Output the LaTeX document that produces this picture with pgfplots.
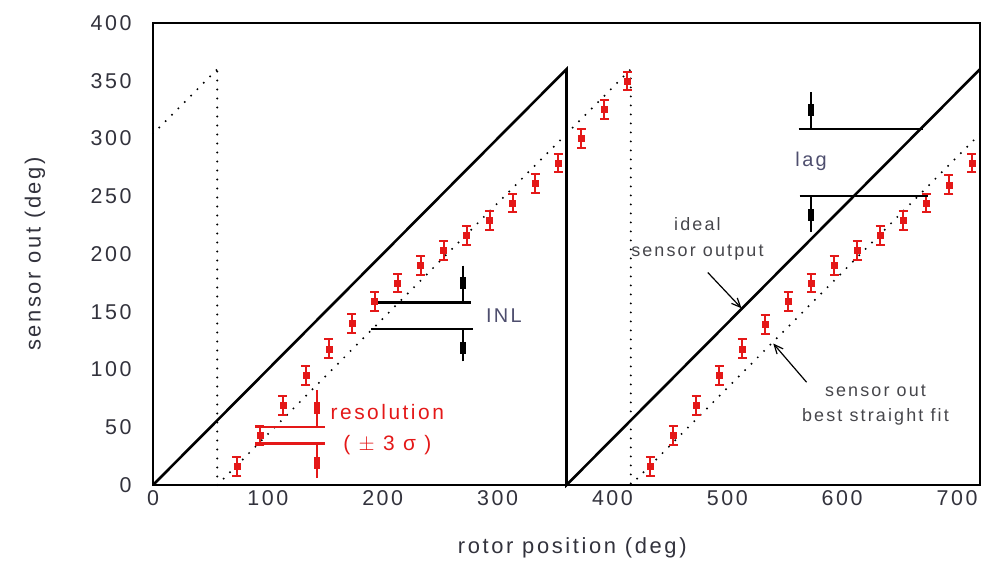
\documentclass[border=0pt]{standalone}
\usepackage{fontspec}
\setmainfont{Liberation Sans}[LetterSpace=12]
\usepackage{pgfplots}
\usepackage{pgfplotstable}
\pgfplotsset{compat=1.18}
\usetikzlibrary{arrows.meta}

\definecolor{ptred}{RGB}{228,24,24}
\definecolor{txtgray}{RGB}{50,50,60}
\definecolor{annot}{RGB}{78,78,110}
\definecolor{notegray}{RGB}{70,70,75}

% sensor output samples, first revolution (x, y, +-3 sigma)
\pgfplotstableread{
x   y    e
73  16   8
93  43   8
113 69   8
133 95   8
153 118  8
173 140  8
193 159  8
213 175  8
233 190  8
253 203  8
273 216  8
293 229  8
313 244  8
333 261  8
353 279  8
373 300  8
393 325  8
413 350  8
}\revone
% second revolution
\pgfplotstableread{
x   y    e
433 16   8
453 43   8
473 69   8
493 95   8
513 118  8
533 139  8
553 159  8
573 175  8
593 190  8
613 203  8
633 216  8
653 229  8
673 244  8
693 260  8
713 279  8
}\revtwo

% vertical marker: line from y1 to y2 with a filled block at yb
\newcommand{\blockmark}[5]{%
  \draw[#5, line width=2bp] (axis cs:#1,#2) -- (axis cs:#1,#3);
  \node[fill=#5, minimum width=6bp, minimum height=12bp, inner sep=0pt] at (axis cs:#1,#4) {};
}

\begin{document}
\begin{tikzpicture}
\useasboundingbox (-153bp,-79bp) rectangle (831bp,485bp);
\begin{axis}[
  at={(0,0)}, anchor=south west,
  scale only axis, width=827bp, height=462bp,
  xmin=0, xmax=720, ymin=0, ymax=400,
  xtick={0,100,...,700}, ytick={0,50,...,400},
  major tick length=0pt,
  axis line style={line width=1.8bp},
  /pgf/number format/assume math mode=true,
  tick label style={font=\fontsize{21.5}{25}\selectfont, text=txtgray},
  xticklabel style={yshift=-2bp},
  yticklabel style={xshift=-18bp},
  every axis x label/.style={at={(axis description cs:0.507,0)}, yshift=-63bp, anchor=center},
  every axis y label/.style={at={(axis description cs:0,0.5)}, xshift=-118bp, rotate=90, anchor=center},
  label style={font=\fontsize{22}{26}\selectfont, text=txtgray},
  xlabel={rotor position (deg)},
  ylabel={sensor out (deg)},
  clip=false,
  fitdots/.style={black, line width=2.2bp, line cap=round, dash pattern=on 0pt off 9bp},
  samples/.style={only marks, mark=square*, mark size=3bp, color=ptred,
    error bars/.cd, y dir=both, y explicit,
    error bar style={line width=2bp, ptred},
    error mark options={rotate=90, mark size=4.5bp, line width=2bp, ptred}},
]
% ideal sensor output (sawtooth)
\addplot[black, line width=2.6bp] coordinates {(0,0) (360,360) (360,0) (720,360)};

% best straight fit, lagging the ideal output
\addplot[fitdots] coordinates {(0,304) (56,360)};
\addplot[fitdots] coordinates {(56,358) (56,0)};
\addplot[fitdots] coordinates {(56,0) (416,360)};
\addplot[fitdots] coordinates {(416,352) (416,0)};
\addplot[fitdots] coordinates {(416,0) (720,304)};

% measured sensor output with error bars
\addplot[samples] table[x=x, y=y, y error=e] {\revone};
\addplot[samples] table[x=x, y=y, y error=e] {\revtwo};

% resolution
\draw[ptred, line width=2.2bp] (axis cs:89,50) -- (axis cs:150,50);
\draw[ptred, line width=2.2bp] (axis cs:89,36) -- (axis cs:150,36);
\blockmark{143}{82}{50}{67}{ptred}
\blockmark{143}{6}{36}{19}{ptred}
\node[text=ptred, font=\fontsize{21}{24}\selectfont] at (axis cs:204,63.5) {resolution};
\node[text=ptred, font=\fontsize{21}{24}\selectfont] at (axis cs:204,34.5) {( $\pm$ 3 σ )};

% integral nonlinearity
\draw[black, line width=2.2bp] (axis cs:193,158) -- (axis cs:277,158);
\draw[black, line width=2.2bp] (axis cs:190,135) -- (axis cs:279,135);
\blockmark{269.5}{190}{158}{175}{black}
\blockmark{269.5}{107}{135}{119}{black}
\node[text=annot, font=\fontsize{20}{24}\selectfont] at (axis cs:305.5,147) {INL};

% lag
\draw[black, line width=2.2bp] (axis cs:562,308) -- (axis cs:670,308);
\draw[black, line width=2.2bp] (axis cs:563,250) -- (axis cs:675,250);
\blockmark{572.5}{340}{308}{325}{black}
\blockmark{572.5}{219}{250}{234}{black}
\node[text=annot, font=\fontsize{20}{24}\selectfont] at (axis cs:573,280) {lag};

% callouts
\node[text=notegray, font=\fontsize{18}{26}\selectfont, align=center] at (axis cs:474,213) {ideal\\sensor output};
\draw[black, line width=1.2bp, -{Straight Barb[length=9bp,width=8bp]}] (axis cs:483,184) -- (axis cs:512.4,153);
\node[text=notegray, font=\fontsize{18}{25}\selectfont, align=center] at (axis cs:629,69) {sensor out\\best straight fit};
\draw[black, line width=1.2bp, -{Straight Barb[length=9bp,width=8bp]}] (axis cs:569,89) -- (axis cs:540,122.5);
\end{axis}
\end{tikzpicture}
\end{document}
